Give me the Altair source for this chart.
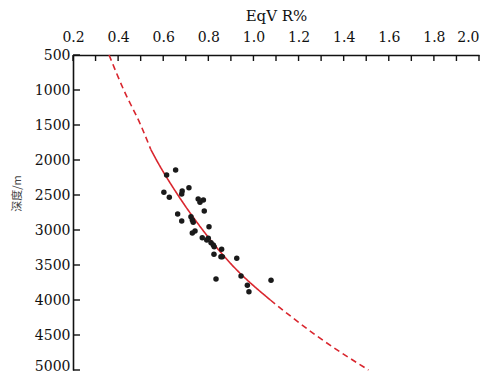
import altair as alt
import pandas as pd

# Scatter data (EqVR %, depth m)
pt_eqvr = [0.655, 0.615, 0.603, 0.627, 0.714, 0.684, 0.682, 0.755, 0.778, 0.763,
           0.782, 0.664, 0.682, 0.723, 0.729, 0.733, 0.803, 0.741, 0.729, 0.773,
           0.793, 0.800, 0.812, 0.822, 0.826, 0.859, 0.825, 0.856, 0.862, 0.926,
           0.834, 0.945, 1.078, 0.973, 0.980]
pt_depth = [2143, 2214, 2461, 2533, 2396, 2443, 2486, 2557, 2571, 2604,
            2729, 2771, 2871, 2810, 2857, 2890, 2953, 3014, 3043, 3110,
            3143, 3119, 3181, 3214, 3239, 3276, 3347, 3381, 3381, 3404,
            3700, 3657, 3719, 3790, 3881]

# Trend curve
curve_depth = [500, 1000, 1500, 1850, 2000, 2500, 3000, 3500, 4000, 4500, 5000]
curve_eqvr = [0.36, 0.425, 0.50, 0.545, 0.57, 0.665, 0.775, 0.905, 1.075, 1.275, 1.51]

x_ticks = [0.2, 0.3, 0.4, 0.5, 0.6, 0.7, 0.8, 0.9, 1.0, 1.1, 1.2, 1.3, 1.4,
           1.5, 1.6, 1.7, 1.8, 1.9, 2.0]
x_labels = [0.2, 0.4, 0.6, 0.8, 1.0, 1.2, 1.4, 1.6, 1.8, 2.0]
y_ticks = [500, 1000, 1500, 2000, 2500, 3000, 3500, 4000, 4500, 5000]

pts = pd.DataFrame({"v": pt_eqvr, "d": pt_depth})

rows = []
for d, v in zip(curve_depth, curve_eqvr):
    if d <= 1850:
        rows.append({"v": v, "d": d, "seg": "top", "sty": "dash"})
    if 1850 <= d <= 4000:
        rows.append({"v": v, "d": d, "seg": "mid", "sty": "solid"})
    if d >= 4000:
        rows.append({"v": v, "d": d, "seg": "bot", "sty": "dash"})
curve = pd.DataFrame(rows)

FONT = "DejaVu Serif"
xs = alt.Scale(domain=[0.2, 2.0], nice=False, zero=False)
ys = alt.Scale(domain=[500, 5000], nice=False, zero=False, reverse=True)

x_axis = alt.Axis(orient="top", values=x_labels, format=".1f", ticks=False,
                  labelPadding=11, labelFont=FONT, labelFontSize=14,
                  labelFlush=False, labelOverlap=False,
                  labelAlign={"condition": {"test": "datum.value >= 1.99", "value": "right"},
                              "value": "center"},
                  labelColor="#111", domainColor="#111", domainWidth=1.6,
                  grid=False, title="EqV R%", titleFont=FONT,
                  titleFontSize=15, titleFontWeight="normal",
                  titleColor="#111", titleY=-35, titleBaseline="alphabetic")
y_axis = alt.Axis(orient="left", values=y_ticks, format="d", ticks=False,
                  labelPadding=3, labelFont=FONT, labelFontSize=14,
                  labelFlush=False, labelOverlap=False,
                  labelBaseline={"condition": {"test": "datum.value >= 4999", "value": "alphabetic"},
                                 "value": "middle"},
                  labelColor="#111", domainColor="#111", domainWidth=1.6,
                  grid=False, title="深度/m", titleFont="Noto Sans CJK SC",
                  titleFontSize=11, titleFontWeight="normal", titleColor="#444",
                  titleAngle=-90, titleX=-56, titleY=138,
                  titleAlign="center", titleBaseline="middle")

X = lambda: alt.X("v:Q", scale=xs, axis=x_axis, title="EqV R%")
Y = lambda: alt.Y("d:Q", scale=ys, axis=y_axis, title="深度/m")

line = alt.Chart(curve).mark_line(color="#d9262e", strokeWidth=1.6,
                                  interpolate="monotone").encode(
    x=X(), y=Y(),
    detail="seg:N",
    order="d:Q",
    strokeDash=alt.StrokeDash("sty:N", scale=alt.Scale(domain=["solid", "dash"],
                                                       range=[[1, 0], [6, 4]]),
                              legend=None),
)

dots = alt.Chart(pts).mark_circle(size=30, color="#1a1a1a", opacity=1).encode(
    x=X(), y=Y(),
)

xt = alt.Chart(pd.DataFrame({"v": x_ticks})).mark_rule(color="#111", strokeWidth=1.4).encode(
    x=X(),
    y=alt.value(0),
    y2=alt.value(6),
)
yt = alt.Chart(pd.DataFrame({"d": y_ticks})).mark_rule(color="#111", strokeWidth=1.4).encode(
    y=Y(),
    x=alt.value(0),
    x2=alt.value(7),
)

chart = alt.layer(line, dots, xt, yt).properties(
    width=406, height=315,
    background="white",
    autosize=alt.AutoSizeParams(type="none"),
    padding={"left": 65, "top": 47, "right": 6, "bottom": 2},
).configure_view(stroke=None).configure_axis(labelOverlap=False)

chart.save("out.html", embed_options={"renderer": "svg", "actions": False})
